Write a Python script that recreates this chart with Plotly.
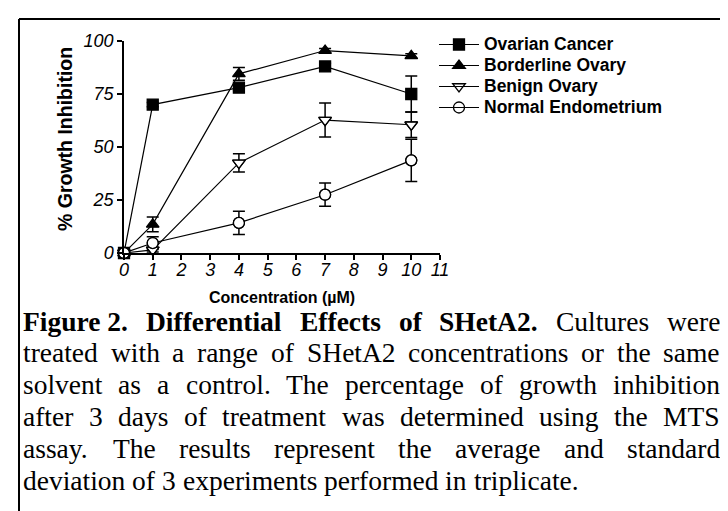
import plotly.graph_objects as go

# ---------------- data ----------------
conc = [0, 1, 4, 7, 10]
series_names = ["Ovarian Cancer", "Borderline Ovary", "Benign Ovary", "Normal Endometrium"]
ovarian = [0, 70, 78, 88, 75]
ovarian_err = [0, 1, 1.5, 1.5, 8.5]
borderline = [0, 13.5, 84.5, 95.5, 93]
borderline_err = [0, 3.5, 3, 1, 1]
benign = [0, 1.5, 42.5, 62.7, 60.5]
benign_err = [0, 1, 4.3, 8, 6]
normal = [0, 4.7, 14.2, 27.5, 43.7]
normal_err = [0, 3, 5.5, 5.5, 10]
x_ticks = list(range(0, 12))
y_ticks = [0, 25, 50, 75, 100]
y_tick_labels = ["0", "25", "50", "75", "100"]

caption_lines = [
    [("Figure 2.", True), ("Differential", True), ("Effects", True), ("of", True), ("SHetA2.", True),
     ("Cultures", False), ("were", False)],
    "treated with a range of SHetA2 concentrations or the same",
    "solvent as a control.  The percentage of growth inhibition",
    "after 3 days of treatment was determined using the MTS",
    "assay.  The results represent the average and standard",
    "deviation of 3 experiments performed in triplicate.",
]

# ---------------- geometry helpers (pixel -> paper) ----------------
W, H = 728, 511
PL, PR, PT, PB = 116, 432, 33, 245


def px(x):
    return (x - PL) / (PR - PL)


def py(y):
    return (PB - y) / (PB - PT)


# Times-like advance widths (per 1000 em) for justification
REG = dict(zip("abcdefghijklmnopqrstuvwxyz",
               [444, 500, 444, 500, 444, 333, 500, 500, 278, 278, 500, 278, 778, 500, 500, 500, 500, 333, 389, 278, 500, 500, 722, 500, 500, 444]))
REG.update(dict(zip("ABCDEFGHIJKLMNOPQRSTUVWXYZ",
                    [722, 667, 667, 722, 611, 556, 722, 722, 333, 389, 722, 611, 889, 722, 722, 556, 722, 667, 556, 611, 722, 722, 944, 722, 722, 611])))
REG.update({d: 500 for d in "0123456789"})
REG.update({".": 250, ",": 250, " ": 250})
BOLD = dict(REG)
BOLD.update(dict(zip("abcdefghijklmnopqrstuvwxyz",
                     [500, 556, 444, 556, 444, 333, 500, 556, 278, 333, 556, 278, 833, 556, 500, 556, 556, 444, 389, 333, 556, 500, 722, 500, 500, 444])))
BOLD.update(dict(zip("ABCDEFGHIJKLMNOPQRSTUVWXYZ",
                     [722, 667, 722, 722, 667, 611, 778, 778, 389, 500, 778, 667, 944, 722, 778, 611, 778, 722, 556, 667, 722, 722, 1000, 722, 722, 667])))

FS = 27.5


def wwidth(word, bold):
    tab = BOLD if bold else REG
    return sum(tab.get(c, 500) for c in word) * FS / 1000.0


fig = go.Figure()

styles = ["square", "triangle-up", "triangle-down-open", "circle-open"]
all_y = [ovarian, borderline, benign, normal]
all_e = [ovarian_err, borderline_err, benign_err, normal_err]

for name, yv, ev, sym in zip(series_names, all_y, all_e, styles):
    fig.add_trace(go.Scatter(
        x=conc, y=yv, mode="lines+markers",
        name=f'<span style="font-size:17.5px">{name}</span>',
        line=dict(color="black", width=1.2),
        marker=dict(symbol=sym, size=11, color="black",
                    line=dict(color="black", width=1.3)),
        error_y=dict(type="data", array=ev, visible=True, color="black",
                     thickness=1.5, width=6),
        cliponaxis=False,
    ))

# white-filled backgrounds for open markers
for idx in (2, 3):
    sym = "triangle-down" if idx == 2 else "circle"
    fig.add_trace(go.Scatter(
        x=conc, y=all_y[idx], mode="markers", showlegend=False, hoverinfo="skip",
        marker=dict(symbol=sym, size=10, color="white", line=dict(width=0)),
        cliponaxis=False,
    ))
    fig.add_trace(go.Scatter(
        x=conc, y=all_y[idx], mode="markers", showlegend=False, hoverinfo="skip",
        marker=dict(symbol=styles[idx], size=11, color="black", line=dict(width=1.3)),
        cliponaxis=False,
    ))

axis_font = dict(family="Liberation Sans, Arial", size=18, color="black", style="italic")
fig.update_layout(
    width=W, height=H,
    margin=dict(l=PL, r=W - PR, t=PT, b=H - PB, pad=0),
    paper_bgcolor="white", plot_bgcolor="white",
    showlegend=True,
    legend=dict(x=px(426), y=py(21), xanchor="left", yanchor="top",
                font=dict(family="Liberation Sans, Arial", size=13.85, color="black", weight="bold"),
                bgcolor="rgba(0,0,0,0)", itemwidth=40, tracegroupgap=0),
    xaxis=dict(range=[0, 11], tickvals=x_ticks, ticktext=[str(t) for t in x_ticks],
               showgrid=False, zeroline=False, showline=True, linecolor="black", linewidth=1.5,
               ticks="outside", ticklen=5, tickwidth=1.5, tickcolor="black", tickfont=axis_font,
               ticklabelstandoff=-5, fixedrange=True),
    yaxis=dict(range=[0, 100], tickvals=y_ticks, ticktext=y_tick_labels,
               showgrid=False, zeroline=False, showline=True, linecolor="black", linewidth=1.5,
               ticks="outside", ticklen=5, tickwidth=1.5, tickcolor="black", tickfont=axis_font,
               fixedrange=True),
)

fig.add_annotation(x=px(57), y=py(131), xref="paper", yref="paper", text="% Growth Inhibition",
                   textangle=-90, showarrow=False,
                   font=dict(family="Liberation Sans, Arial", size=19.5, color="black", weight="bold"),
                   xanchor="center", yanchor="middle")
fig.add_annotation(x=px(274), y=py(289), xref="paper", yref="paper", text="Concentration (µM)",
                   showarrow=False,
                   font=dict(family="Liberation Sans, Arial", size=16, color="black", weight="bold"),
                   xanchor="center", yanchor="middle")

# frame lines (top and left)
fig.add_shape(type="line", xref="paper", yref="paper", x0=px(11), x1=px(730), y0=py(11), y1=py(11),
              line=dict(color="black", width=2))
fig.add_shape(type="line", xref="paper", yref="paper", x0=px(11), x1=px(11), y0=py(11), y1=py(515),
              line=dict(color="black", width=2))

# caption, justified between left and right margins
LEFT, RIGHT = 17, 714
ANCHOR_SHIFT = -3
line_centers = [313, 344, 376, 408, 440, 472]
cap_font = dict(family="Liberation Serif, Times New Roman", size=FS, color="black")
for i, (line, yc) in enumerate(zip(caption_lines, line_centers)):
    if isinstance(line, str):
        words = [(w, False) for w in line.split()]
    else:
        words = line
    last = i == len(caption_lines) - 1
    widths = [wwidth(w, b) for w, b in words]
    if last or len(words) < 2:
        gap = FS * 0.25
    else:
        gap = (RIGHT - LEFT - sum(widths)) / (len(words) - 1)
    xcur = LEFT
    for (w, b), wd in zip(words, widths):
        txt = f"<b>{w}</b>" if b else w
        fig.add_annotation(x=px(xcur + ANCHOR_SHIFT), y=py(yc), xref="paper", yref="paper", text=txt,
                           showarrow=False, font=cap_font, xanchor="left", yanchor="middle",
                           borderpad=0)
        xcur += wd + gap

fig.write_html("out.html")
